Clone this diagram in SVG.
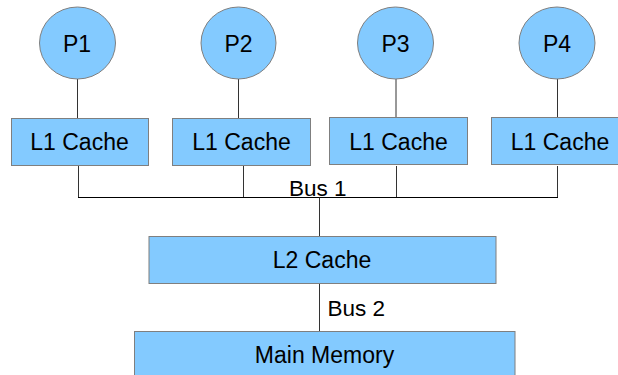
<svg xmlns="http://www.w3.org/2000/svg" width="618" height="375" viewBox="0 0 618 375">
<style>
.n{fill:#83caff;stroke:#7f7f7f;stroke-width:1}
.t{font-family:"Liberation Sans",Arial,sans-serif;font-size:23px;fill:#000;text-anchor:middle}
.l{font-family:"Liberation Sans",Arial,sans-serif;font-size:22.5px;fill:#000}
.c{stroke:#333;stroke-width:1;fill:none}
</style>
<rect width="618" height="375" fill="#fff"/>
<g id="connectors">
<line class="c" x1="77.5" y1="79" x2="77.5" y2="118"/>
<line class="c" x1="238.5" y1="79" x2="238.5" y2="118"/>
<line class="c" x1="396" y1="79" x2="396" y2="118"/>
<line class="c" x1="557.5" y1="79" x2="557.5" y2="118"/>
<line class="c" x1="78.5" y1="166" x2="78.5" y2="197.5"/>
<line class="c" x1="243.5" y1="166" x2="243.5" y2="197.5"/>
<line class="c" x1="396.5" y1="166" x2="396.5" y2="197.5"/>
<line class="c" x1="557.5" y1="166" x2="557.5" y2="197.5"/>
<line stroke="#000" stroke-width="1" x1="78" y1="197.5" x2="558" y2="197.5"/>
<line class="c" x1="319.5" y1="197.5" x2="319.5" y2="236.5"/>
<line class="c" x1="319.5" y1="283.5" x2="319.5" y2="331.5"/>
<text class="l" x="289" y="195.5">Bus 1</text>
<text class="l" x="327.5" y="315.5">Bus 2</text>
</g>
<g id="p1"><ellipse class="n" cx="77.5" cy="43" rx="38" ry="36"/><text class="t" x="77" y="51.5">P1</text></g>
<g id="p2"><ellipse class="n" cx="238.5" cy="43" rx="37.5" ry="36"/><text class="t" x="238.5" y="51.5">P2</text></g>
<g id="p3"><ellipse class="n" cx="395.5" cy="43" rx="38" ry="36"/><text class="t" x="395.5" y="51.5">P3</text></g>
<g id="p4"><ellipse class="n" cx="557" cy="43" rx="38" ry="36"/><text class="t" x="557" y="51.5">P4</text></g>
<g id="l1a"><rect class="n" x="11.5" y="118.5" width="137" height="47"/><text class="t" x="79.5" y="150">L1 Cache</text></g>
<g id="l1b"><rect class="n" x="172.5" y="118.5" width="138" height="47"/><text class="t" x="241.5" y="150">L1 Cache</text></g>
<g id="l1c"><rect class="n" x="329.5" y="117.5" width="138" height="47"/><text class="t" x="398.5" y="149.5">L1 Cache</text></g>
<g id="l1d"><rect class="n" x="491.5" y="117.5" width="140" height="47"/><text class="t" x="560" y="149.5">L1 Cache</text></g>
<g id="l2"><rect class="n" x="149" y="236.5" width="347" height="47"/><text class="t" x="322" y="267.5">L2 Cache</text></g>
<g id="mem"><rect class="n" x="134.5" y="331.5" width="380.5" height="50"/><text class="t" x="324.5" y="362.5">Main Memory</text></g>
</svg>
